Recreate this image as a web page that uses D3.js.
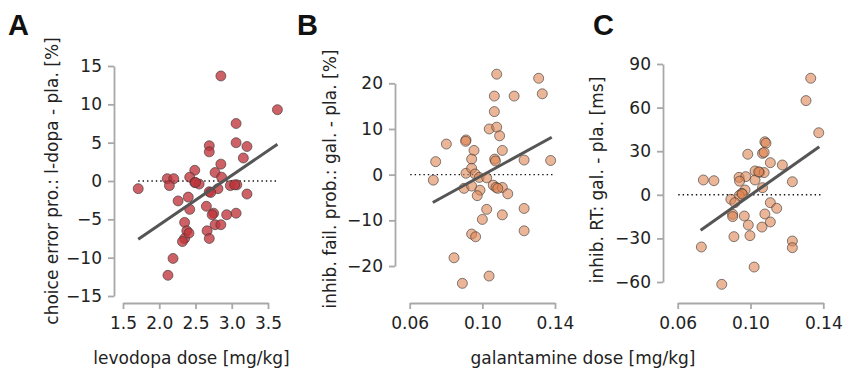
<!DOCTYPE html>
<html><head><meta charset="utf-8">
<script src="https://cdn.jsdelivr.net/npm/d3@7"></script>
<style>
body{margin:0;background:#fff;}
svg{display:block;font-family:"DejaVu Sans",sans-serif;}
</style></head>
<body><svg id="c" width="843" height="369"></svg>
<script>
// ---- data ----
const aDose = [2.85,3.63,3.06,3.06,3.21,2.69,2.69,3.16,2.85,2.49,2.77,2.86,2.11,2.20,2.42,2.14,1.71,2.49,2.55,2.69,2.81,2.98,3.07,3.04,3.21,2.26,2.40,2.42,2.65,2.75,2.73,2.93,3.06,2.77,2.85,2.35,2.38,2.66,2.35,2.32,2.69,2.19,2.12,2.41,2.71,2.5];
const aDiff = [13.7,9.3,7.5,5.0,4.5,4.6,3.8,3.0,2.2,1.4,1.1,0.5,0.3,0.3,0.5,-0.6,-1.0,-0.2,-0.4,-1.4,-1.0,-0.6,-0.5,-0.5,-1.7,-2.6,-2.1,-3.7,-3.3,-4.2,-4.4,-4.4,-4.2,-5.7,-5.7,-5.4,-6.5,-6.5,-7.5,-7.9,-7.5,-10.1,-12.3,-6.8,-1.5,-0.2];
const bDose = [0.1079,0.131,0.133,0.1066,0.1175,0.1066,0.1038,0.1079,0.1095,0.0802,0.091,0.0908,0.0743,0.073,0.0954,0.0941,0.1068,0.1072,0.111,0.123,0.1376,0.091,0.0941,0.096,0.0983,0.1024,0.0899,0.0941,0.0987,0.0972,0.106,0.1075,0.111,0.114,0.1024,0.1,0.111,0.123,0.123,0.0941,0.0963,0.0844,0.1037,0.089,0.1085];
const bDiff = [22.0,21.1,17.7,17.2,17.2,13.8,10.0,10.4,8.5,6.7,7.6,7.3,2.85,-1.2,5.3,3.4,3.4,3.0,5.3,3.2,3.1,0.3,1.4,0.15,-0.6,-0.7,-3.0,-2.5,-3.4,-4.6,-2.3,-2.8,-2.8,-4.2,-7.6,-9.8,-8.8,-7.4,-12.3,-13.0,-13.6,-18.2,-22.2,-23.8,-3.0];
const cDose = [0.1331,0.1305,0.1375,0.1079,0.1085,0.1066,0.1075,0.0985,0.1109,0.1175,0.1025,0.105,0.1075,0.0741,0.0799,0.123,0.0937,0.0974,0.094,0.1025,0.1066,0.097,0.0952,0.0938,0.0892,0.0914,0.0902,0.0902,0.0966,0.1109,0.1144,0.1079,0.0988,0.1109,0.1063,0.0909,0.0997,0.073,0.123,0.123,0.102,0.0842,0.0955,0.1045];
const cDiff = [80.2,64.8,42.7,36.5,35.5,28.5,29.2,27.9,22.1,20.5,16.4,15.5,15.3,10.2,9.7,9.0,12.0,12.5,9.4,10.2,4.9,3.3,1.0,-0.5,-3.1,-5.4,-13.4,-15.0,-14.6,-5.4,-9.3,-13.2,-20.8,-18.7,-22.2,-28.8,-28.1,-35.9,-31.8,-36.4,-49.7,-61.6,0.5,15.8];

const fitA = [[1.71,-7.6],[3.63,4.8]];
const fitB = [[0.0727,-6.1],[0.1382,8.2]];
const fitC = [[0.0726,-24.4],[0.1378,33.1]];
const zeroA = [1.71,3.63];
const zeroB = [0.0603,0.139];
const zeroC = [0.0603,0.139];

const xTicksA = [1.5,2.0,2.5,3.0,3.5];
const yTicksA = [-15,-10,-5,0,5,10,15];
const xTicksBC = [0.06,0.10,0.14];
const yTicksB = [-20,-10,0,10,20];
const yTicksC = [-60,-30,0,30,60,90];

const FS = "17px";
const svg = d3.select("#c");

function panel(o){
  const x = d3.scaleLinear().domain(o.xDom).range(o.xRange);
  const y = d3.scaleLinear().domain(o.yDom).range(o.yRange);
  const g = svg.append("g");
  const xa = g.append("g").attr("transform",`translate(0,${o.xAxisY})`)
    .call(d3.axisBottom(x).tickValues(o.xTicks).tickFormat(o.xFmt).tickSize(6).tickPadding(8).tickSizeOuter(0));
  const ya = g.append("g").attr("transform",`translate(${o.yAxisX},0)`)
    .call(d3.axisLeft(y).tickValues(o.yTicks).tickFormat(d3.format("d")).tickSize(6).tickPadding(6).tickSizeOuter(0));
  [xa,ya].forEach(a=>{
    a.attr("font-family",null).attr("font-size",null);
    a.select(".domain").attr("stroke","#a8a8a8").attr("stroke-width",1.8);
    a.selectAll(".tick line").attr("stroke","#a8a8a8").attr("stroke-width",1.8);
    a.selectAll(".tick text").attr("fill","#222").style("font-size",FS).style("font-family","DejaVu Sans");
  });
  g.append("line").attr("x1",x(o.zero[0])).attr("x2",x(o.zero[1]))
    .attr("y1",y(0)).attr("y2",y(0))
    .attr("stroke","#111").attr("stroke-width",1.4).attr("stroke-dasharray","1.4,3");
  const pts = o.xs.map((v,i)=>[v,o.ys[i]]);
  g.append("g").selectAll("circle").data(pts).join("circle")
    .attr("cx",d=>x(d[0])).attr("cy",d=>y(d[1])).attr("r",5)
    .attr("fill",o.fill).attr("fill-opacity",o.alpha)
    .attr("stroke","#333").attr("stroke-opacity",0.6).attr("stroke-width",1);
  g.append("path").datum(o.fit)
    .attr("d",d3.line().x(d=>x(d[0])).y(d=>y(d[1])))
    .attr("stroke","#555").attr("stroke-width",3).attr("fill","none");
  svg.append("text").attr("transform",`translate(${o.ylabX},${o.ylabY}) rotate(-90)`)
    .attr("text-anchor","middle").style("font-size",FS).attr("fill","#222").text(o.ylab);
  svg.append("text").attr("x",o.letterX).attr("y",35).style("font-size","29px")
    .style("font-weight","bold").style("font-family","Liberation Sans, Arial, sans-serif")
    .attr("fill","#111").text(o.letter);
}

const fmt2 = d3.format(".2f");
panel({xs:aDose,ys:aDiff,xDom:[1.5,3.5],xRange:[123,268],yDom:[-15,15],yRange:[296,66],
  xAxisY:303,yAxisX:114,xTicks:xTicksA,yTicks:yTicksA,xFmt:d3.format(".1f"),
  zero:zeroA,fit:fitA,fill:"#bf353b",alpha:0.78,
  ylab:"choice error pro.: l-dopa - pla. [%]",ylabX:58,ylabY:181,letter:"A",letterX:8});
panel({xs:bDose,ys:bDiff,xDom:[0.06,0.14],xRange:[409.7,555],yDom:[-20,20],yRange:[266,83.3],
  xAxisY:303,yAxisX:395,xTicks:xTicksBC,yTicks:yTicksB,xFmt:fmt2,
  zero:zeroB,fit:fitB,fill:"#dd8452",alpha:0.6,
  ylab:"inhib. fail. prob.: gal. - pla. [%]",ylabX:336,ylabY:179,letter:"B",letterX:297});
panel({xs:cDose,ys:cDiff,xDom:[0.06,0.14],xRange:[677.7,823.3],yDom:[-60,90],yRange:[282,64],
  xAxisY:303,yAxisX:663,xTicks:xTicksBC,yTicks:yTicksC,xFmt:fmt2,
  zero:zeroC,fit:fitC,fill:"#dd8452",alpha:0.6,
  ylab:"inhib. RT: gal. - pla. [ms]",ylabX:603,ylabY:180,letter:"C",letterX:593});

svg.append("text").attr("x",191.5).attr("y",364).attr("text-anchor","middle")
  .style("font-size",FS).attr("fill","#222").text("levodopa dose [mg/kg]");
svg.append("text").attr("x",583).attr("y",364).attr("text-anchor","middle")
  .style("font-size",FS).attr("fill","#222").text("galantamine dose [mg/kg]");
</script></body></html>
